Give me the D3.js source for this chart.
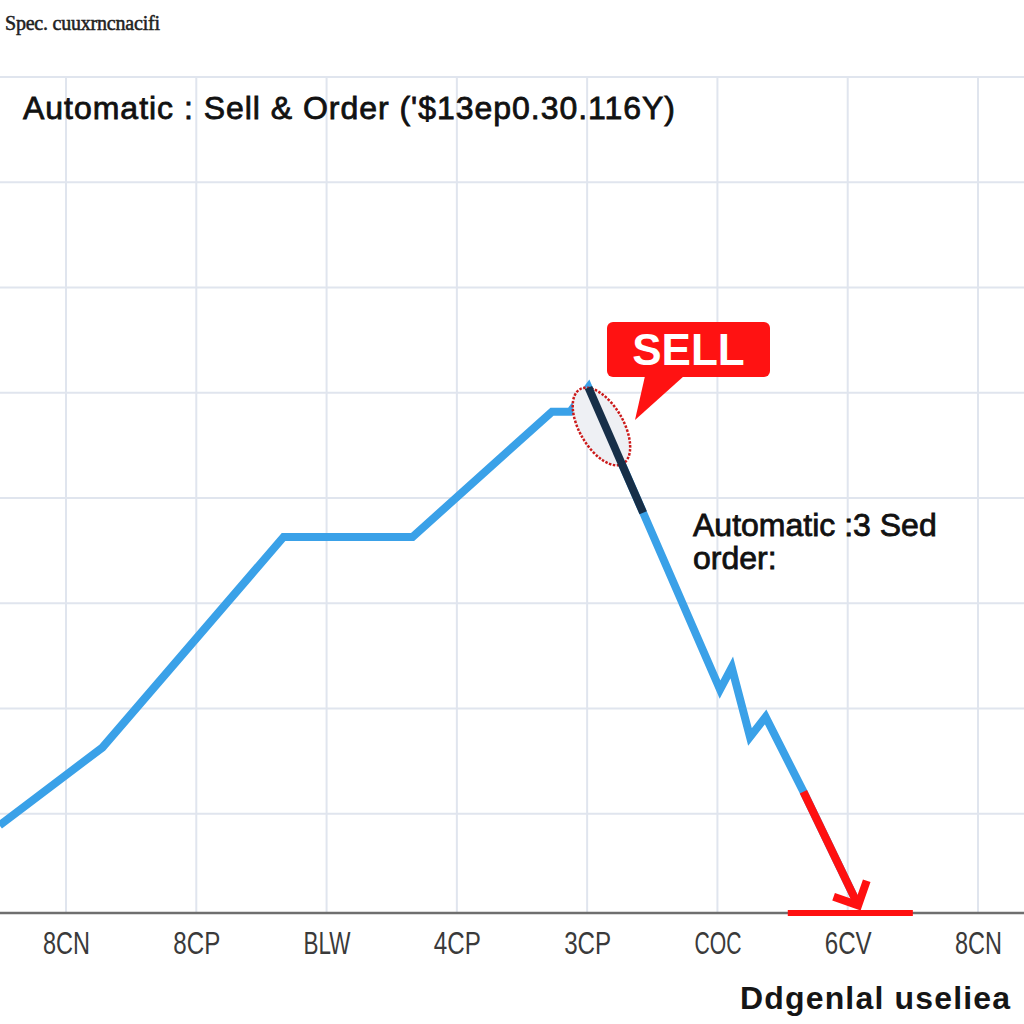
<!DOCTYPE html>
<meta charset="utf-8">
<head>
    <title>Automatic sell order</title>
</head>
<style>
 body { margin: 0; background: #fff; }
 svg { display: block; }
 .grid line { stroke: #e0e5ee; stroke-width: 2px; }
 .tick text { font-family: "Liberation Sans", Arial, sans-serif; font-size: 31px; fill: #3a3a3a; }
 .title { font-family: "Liberation Sans", Arial, sans-serif; font-size: 32px; fill: #111; stroke: #111; stroke-width: 0.8px; }
 .note { font-family: "Liberation Sans", Arial, sans-serif; font-size: 32px; fill: #111; stroke: #111; stroke-width: 0.8px; }
</style>
<body>
    <div id="chart"></div>
    <script src="https://cdn.jsdelivr.net/npm/d3@7"></script>
    <script>

     // x tick labels (one per vertical grid line)
     var tickLabels = ["8CN", "8CP", "BLW", "4CP", "3CP", "COC", "6CV", "8CN"];

     // price path, x in tick units, y in grid units
     var priceX = [-0.51, 0.28, 1.67, 2.66, 3.73, 3.87, 4.01, 4.43, 5.02, 5.11, 5.25, 5.37, 5.66, 6.08];
     var priceY = [0.89, 1.63, 3.63, 3.63, 4.82, 4.82, 5.05, 3.86, 2.18, 2.39, 1.73, 1.92, 1.21, 0.13];

     // index ranges of the highlighted parts
     var sellLeg = [6, 7];     // dark stretch right after the peak
     var exitLeg = [12, 13];   // red stretch at the end
     var exitBase = [5.54, 6.50];

     var width = 1024,
         height = 1024,
         plotTop = 77,
         plotBottom = 913;

     var x = d3.scaleLinear().domain([0, 7]).range([66, 978]);
     var y = d3.scaleLinear().domain([0, 8]).range([919, plotTop]);

     var svg = d3.select("#chart").append("svg")
                 .attr("width", width)
                 .attr("height", height);

     svg.append("rect")
        .attr("width", width)
        .attr("height", height)
        .attr("fill", "#fff");

     // grid
     var grid = svg.append("g").attr("class", "grid");
     grid.selectAll("line.h")
         .data(d3.range(1, 9))
         .enter().append("line")
         .attr("class", "h")
         .attr("x1", 0).attr("x2", width)
         .attr("y1", function(d) { return y(d); })
         .attr("y2", function(d) { return y(d); });
     grid.selectAll("line.v")
         .data(d3.range(tickLabels.length))
         .enter().append("line")
         .attr("class", "v")
         .attr("x1", function(d) { return x(d); })
         .attr("x2", function(d) { return x(d); })
         .attr("y1", plotTop).attr("y2", plotBottom);

     // x axis
     var xAxis = d3.axisBottom(x)
                   .tickValues(d3.range(tickLabels.length))
                   .tickFormat(function(i) { return tickLabels[i]; })
                   .tickSize(0)
                   .tickPadding(13);
     var axisG = svg.append("g")
                    .attr("transform", "translate(0," + plotBottom + ")")
                    .call(xAxis);
     axisG.select(".domain").remove();
     // labels are drawn narrow in the original
     axisG.selectAll(".tick text")
          .attr("dy", "0.9em")
          .attr("textLength", 47)
          .attr("lengthAdjust", "spacingAndGlyphs");
     axisG.append("line")
          .attr("x1", 0).attr("x2", width)
          .attr("y1", 0).attr("y2", 0)
          .attr("stroke", "#6f6f6f")
          .attr("stroke-width", 2.5);

     var pts = priceX.map(function(d, i) { return [d, priceY[i]]; });
     var line = d3.line()
                  .x(function(d) { return x(d[0]); })
                  .y(function(d) { return y(d[1]); });

     // main price line
     svg.append("path")
        .datum(pts)
        .attr("d", line)
        .attr("fill", "none")
        .attr("stroke", "#3aa1e8")
        .attr("stroke-width", 8)
        .attr("stroke-linejoin", "miter");

     // circled peak
     var peak = pts[sellLeg[0]];
     var cx = x(peak[0]) + 13,
         cy = y(peak[1]) + 39;
     svg.append("ellipse")
        .attr("cx", 0).attr("cy", 0)
        .attr("rx", 43).attr("ry", 22)
        .attr("transform", "translate(" + cx + "," + cy + ") rotate(60)")
        .attr("fill", "#eef0f4")
        .attr("stroke", "#cc1a1a")
        .attr("stroke-width", 2.5)
        .attr("stroke-dasharray", "2.5,1.5");

     // dark sell leg
     svg.append("path")
        .datum(pts.slice(sellLeg[0], sellLeg[1] + 1))
        .attr("d", line)
        .attr("fill", "none")
        .attr("stroke", "#172f48")
        .attr("stroke-width", 8);

     // red exit leg with arrow
     var exitPts = pts.slice(exitLeg[0], exitLeg[1] + 1);
     svg.append("path")
        .datum(exitPts)
        .attr("d", line)
        .attr("fill", "none")
        .attr("stroke", "#ff1010")
        .attr("stroke-width", 8);

     var a = exitPts[exitPts.length - 2], b = exitPts[exitPts.length - 1];
     var tx = x(b[0]), ty = y(b[1]);
     var ang = Math.atan2(y(a[1]) - ty, x(a[0]) - tx);
     var wing = 26, spread = Math.PI / 4;
     svg.append("path")
        .attr("d", "M" + (tx + wing * Math.cos(ang - spread)) + "," + (ty + wing * Math.sin(ang - spread)) +
                   "L" + tx + "," + ty +
                   "L" + (tx + wing * Math.cos(ang + spread)) + "," + (ty + wing * Math.sin(ang + spread)))
        .attr("fill", "none")
        .attr("stroke", "#ff1010")
        .attr("stroke-width", 8)
        .attr("stroke-linejoin", "miter");

     svg.append("line")
        .attr("x1", x(exitBase[0])).attr("x2", x(exitBase[1]))
        .attr("y1", plotBottom).attr("y2", plotBottom)
        .attr("stroke", "#ff1010")
        .attr("stroke-width", 6);

     // SELL callout
     var bx = 607, by = 322, bw = 163, bh = 55;
     svg.append("path")
        .attr("d", "M" + (bx + 38) + "," + (by + bh - 1) + "L" + (bx + 77) + "," + (by + bh - 1) + "L" + (bx + 28) + "," + (by + 98) + "Z")
        .attr("fill", "#ff1212");
     svg.append("rect")
        .attr("x", bx).attr("y", by)
        .attr("width", bw).attr("height", bh)
        .attr("rx", 6)
        .attr("fill", "#ff1212");
     svg.append("text")
        .attr("x", bx + bw / 2).attr("y", by + 43)
        .attr("text-anchor", "middle")
        .style("font-family", "'Liberation Sans', Arial, sans-serif")
        .style("font-size", "44px")
        .style("font-weight", "bold")
        .attr("fill", "#fff")
        .text("SELL");

     // texts
     svg.append("text")
        .attr("x", 5).attr("y", 30)
        .attr("textLength", 155)
        .style("font-family", "'Liberation Serif', serif")
        .style("font-size", "20px")
        .attr("fill", "#222")
        .attr("stroke", "#222")
        .attr("stroke-width", 0.5)
        .text("Spec. cuuxrncnacifi");

     svg.append("text")
        .attr("class", "title")
        .attr("x", 23).attr("y", 119)
        .attr("textLength", 652)
        .text("Automatic : Sell & Order ('$13ep0.30.116Y)");

     var note = svg.append("text")
                   .attr("class", "note")
                   .attr("x", 693).attr("y", 536);
     note.append("tspan").attr("x", 693).text("Automatic :3 Sed");
     note.append("tspan").attr("x", 693).attr("dy", 33).text("order:");

     svg.append("text")
        .attr("x", 1010).attr("y", 1009)
        .attr("text-anchor", "end")
        .attr("textLength", 270)
        .style("font-family", "'Liberation Sans Narrow', 'Liberation Sans', sans-serif")
        .style("font-size", "32px")
        .style("font-weight", "bold")
        .attr("fill", "#151515")
        .text("Ddgenlal useliea");

    </script>
</body>
